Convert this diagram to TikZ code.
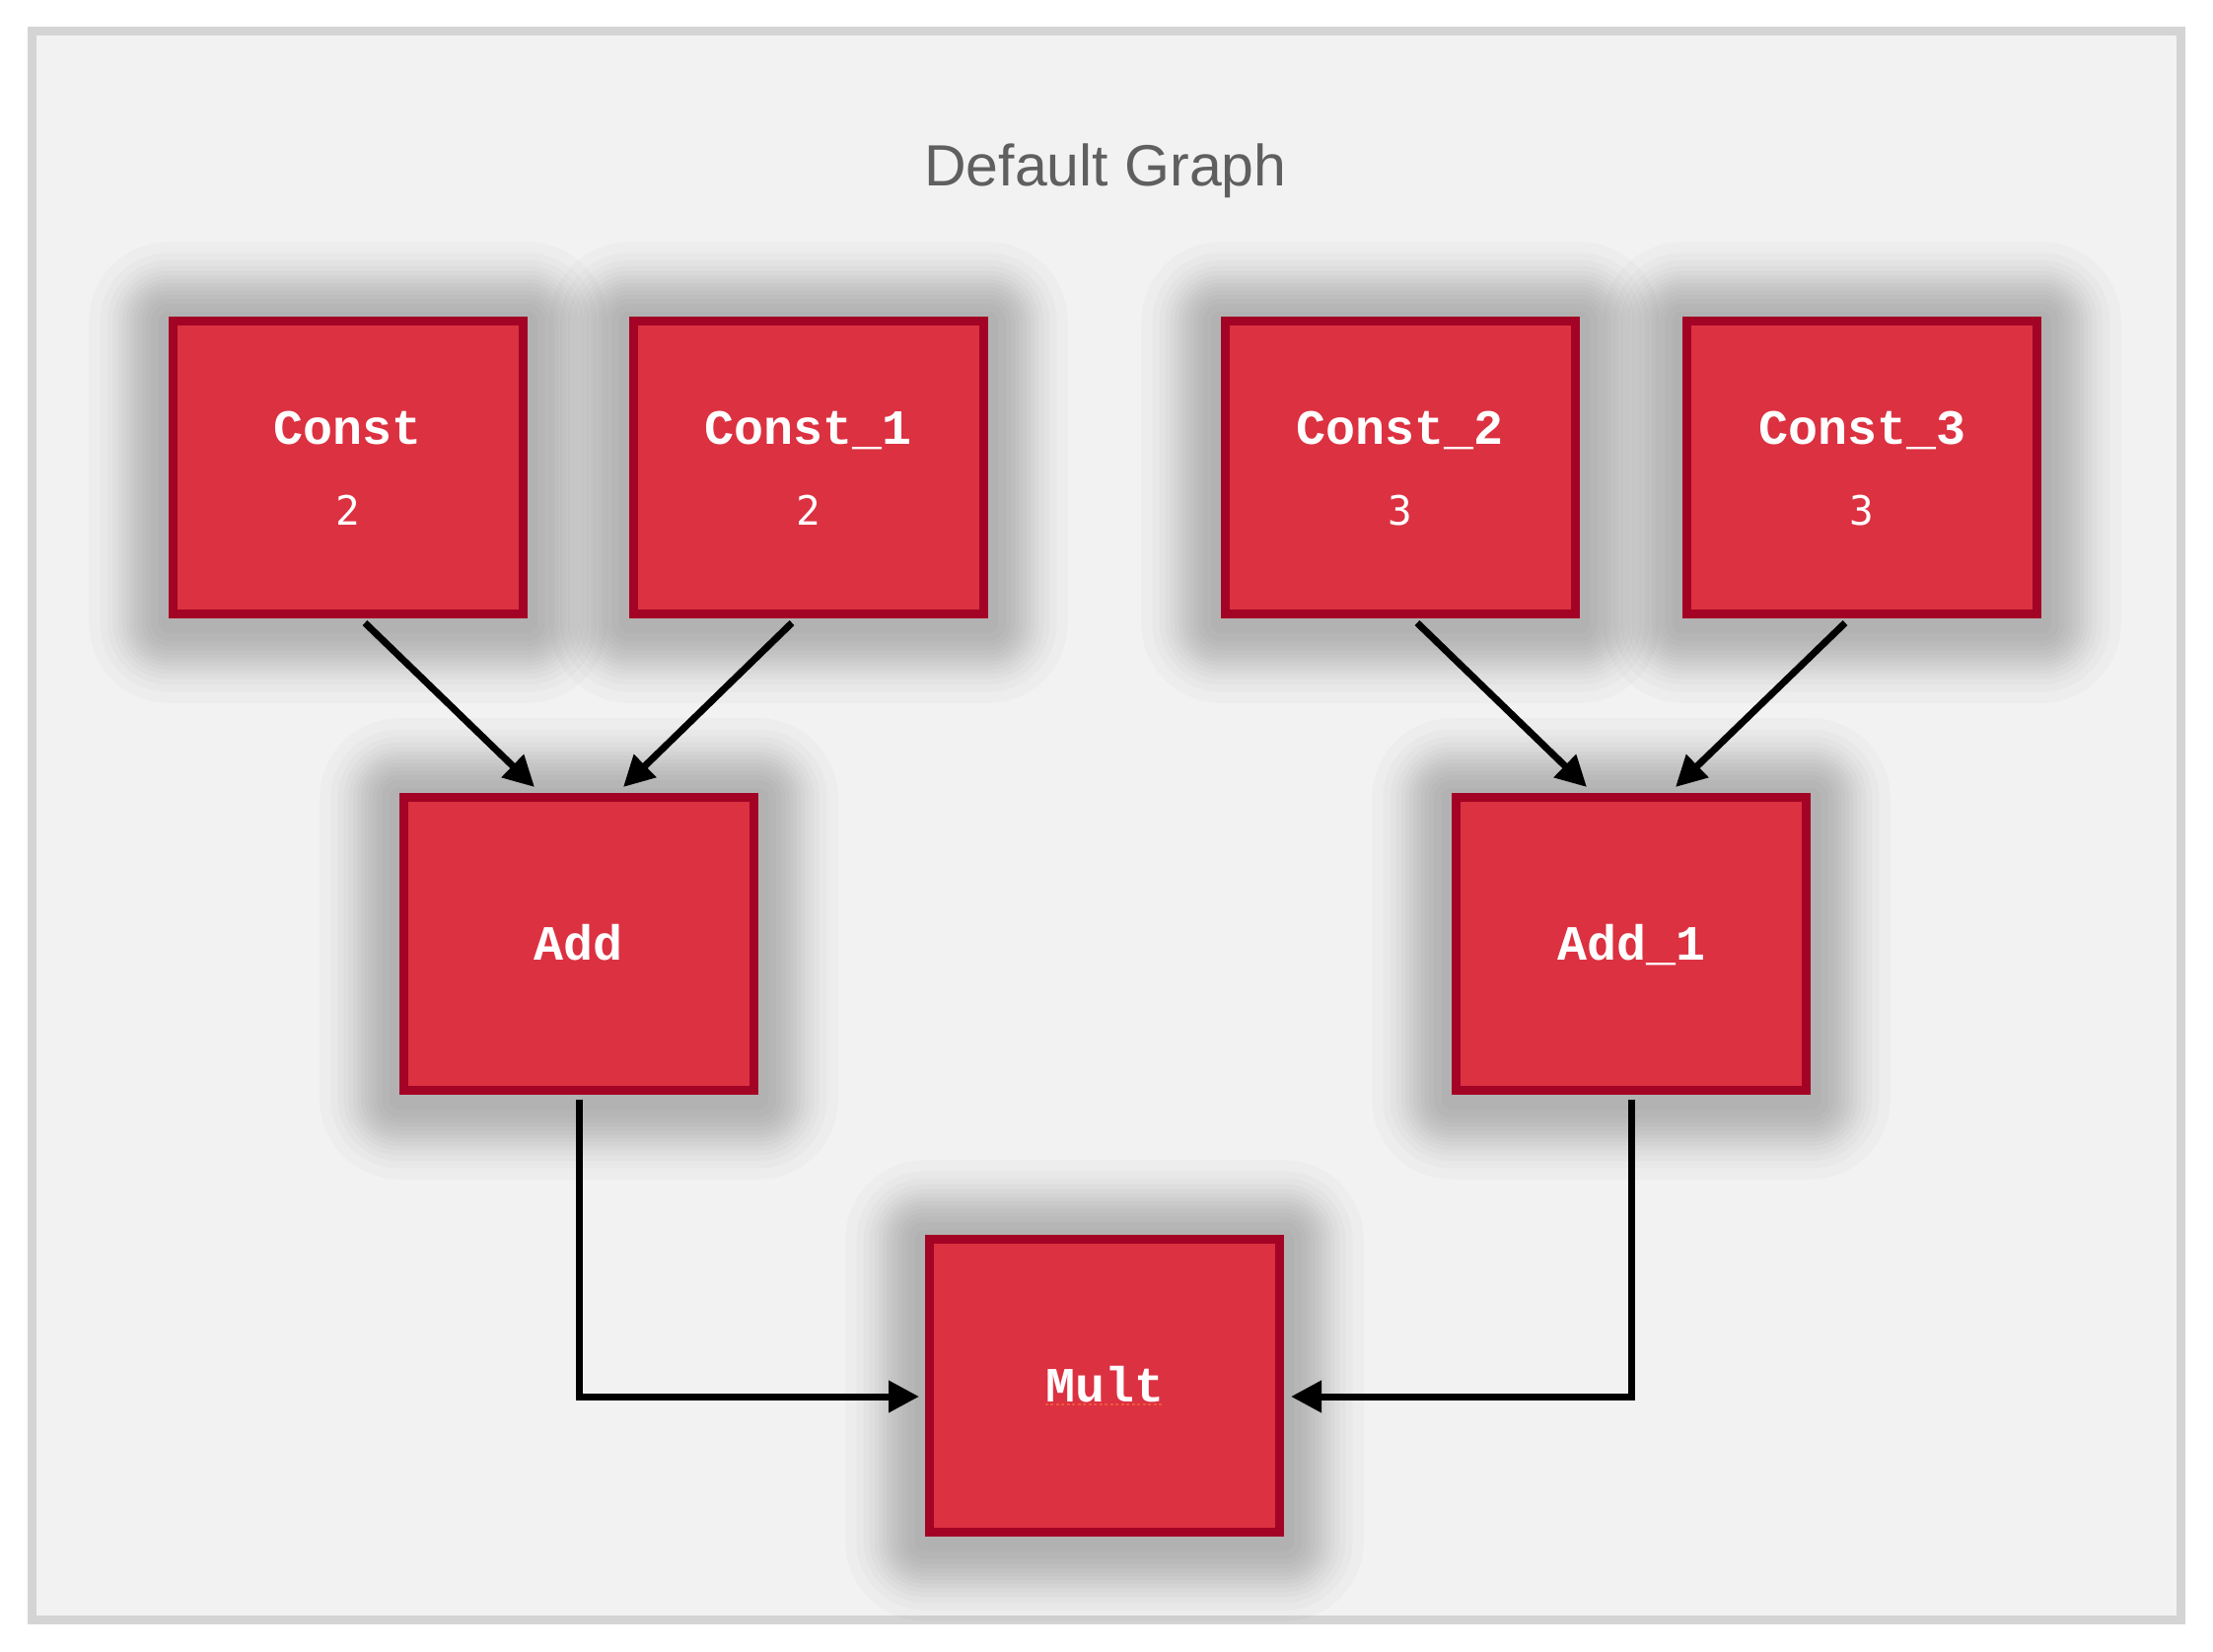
\documentclass[tikz,border=0pt]{standalone}
\usepackage{fontspec}
\usetikzlibrary{arrows.meta,backgrounds}
\newfontfamily\titlefont{Liberation Sans}
\newfontfamily\lblfont{Liberation Mono}
\newfontfamily\valfont{DejaVu Sans Mono}
\definecolor{boxfill}{HTML}{DC3141}
\definecolor{boxline}{HTML}{A30425}
\definecolor{framefill}{HTML}{F2F2F2}
\definecolor{frameline}{HTML}{D4D4D4}
\definecolor{titlegray}{HTML}{5F5F5F}
\definecolor{spellred}{HTML}{F0553C}
\newcommand\myboxshadow[1]{%
  \foreach \k in {1,...,14}{%
    \pgfmathsetmacro\dd{4.5+48*sqrt(ln(0.25/(1-0.98^\k)))}%
    \fill[black, opacity=0.02, rounded corners=\dd pt]
      ([xshift=-\dd pt, yshift=-5pt+\dd pt]#1.north west) rectangle
      ([xshift=\dd pt, yshift=-5pt-\dd pt]#1.south east);}}
\begin{document}
\begin{tikzpicture}[x=1pt,y=-1pt,
  opbox/.style={draw=boxline, fill=boxfill, line width=9pt, minimum width=355pt,
    minimum height=297pt, inner sep=0pt},
  oplabel/.style={text=white, font=\lblfont\bfseries\fontsize{50}{50}\selectfont, inner sep=0pt, anchor=base},
  opvalue/.style={text=white, font=\valfont\fontsize{41}{41}\selectfont, inner sep=0pt, anchor=base},
  arr/.style={draw=black, line width=7pt, -{Triangle[length=31pt,width=31pt]}},
]
\begin{scope}[on background layer]
\fill[white] (0,0) rectangle (2244,1674);
\draw[frameline, fill=framefill, line width=9pt] (32.5,31.5) rectangle (2211.5,1642.5);
\end{scope}
\useasboundingbox (0,0) rectangle (2244,1674);
\node[text=titlegray, font=\titlefont\fontsize{59}{59}\selectfont, inner sep=0pt, anchor=base] (title) at (1121,188) {Default Graph};

\node[opbox] (c0) at (353,474) {};
\node[opbox] (c1) at (820,474) {};
\node[opbox] (c2) at (1420,474) {};
\node[opbox] (c3) at (1888,474) {};
\node[opbox] (add) at (587,957) {};
\node[opbox] (add1) at (1654,957) {};
\node[opbox] (mult) at (1120,1405) {};

\begin{scope}[on background layer]
\myboxshadow{c0}
\myboxshadow{c1}
\myboxshadow{c2}
\myboxshadow{c3}
\myboxshadow{add}
\myboxshadow{add1}
\myboxshadow{mult}
\end{scope}

\node[oplabel] (c0l) at ([yshift=24pt]c0.center) {Const};
\node[opvalue] (c0v) at ([yshift=-58pt]c0.center) {2};
\node[oplabel] (c1l) at ([yshift=24pt]c1.center) {Const\_1};
\node[opvalue] (c1v) at ([yshift=-58pt]c1.center) {2};
\node[oplabel] (c2l) at ([yshift=24pt]c2.center) {Const\_2};
\node[opvalue] (c2v) at ([yshift=-58pt]c2.center) {3};
\node[oplabel] (c3l) at ([yshift=24pt]c3.center) {Const\_3};
\node[opvalue] (c3v) at ([yshift=-58pt]c3.center) {3};
\node[oplabel] (addl) at ([yshift=-16pt]add.center) {Add};
\node[oplabel] (add1l) at ([yshift=-16pt]add1.center) {Add\_1};
\node[oplabel] (multl) at ([yshift=-16pt]mult.center) {Mult};
\draw[spellred, line width=2.5pt, dash pattern=on 3pt off 2.5pt] ([yshift=-3pt]multl.base west) -- ([yshift=-3pt]multl.base east);

\draw[arr] ([xshift=17pt,yshift=-4.5pt]c0.south) -- ([xshift=-45pt,yshift=6pt]add.north);
\draw[arr] ([xshift=-17pt,yshift=-4.5pt]c1.south) -- ([xshift=45pt,yshift=6pt]add.north);
\draw[arr] ([xshift=17pt,yshift=-4.5pt]c2.south) -- ([xshift=-45pt,yshift=6pt]add1.north);
\draw[arr] ([xshift=-17pt,yshift=-4.5pt]c3.south) -- ([xshift=45pt,yshift=6pt]add1.north);
\draw[arr] ([yshift=-4.5pt]add.south) |- ([xshift=-6pt,yshift=-11pt]mult.west);
\draw[arr] ([yshift=-4.5pt]add1.south) |- ([xshift=7pt,yshift=-11pt]mult.east);
\end{tikzpicture}
\end{document}
